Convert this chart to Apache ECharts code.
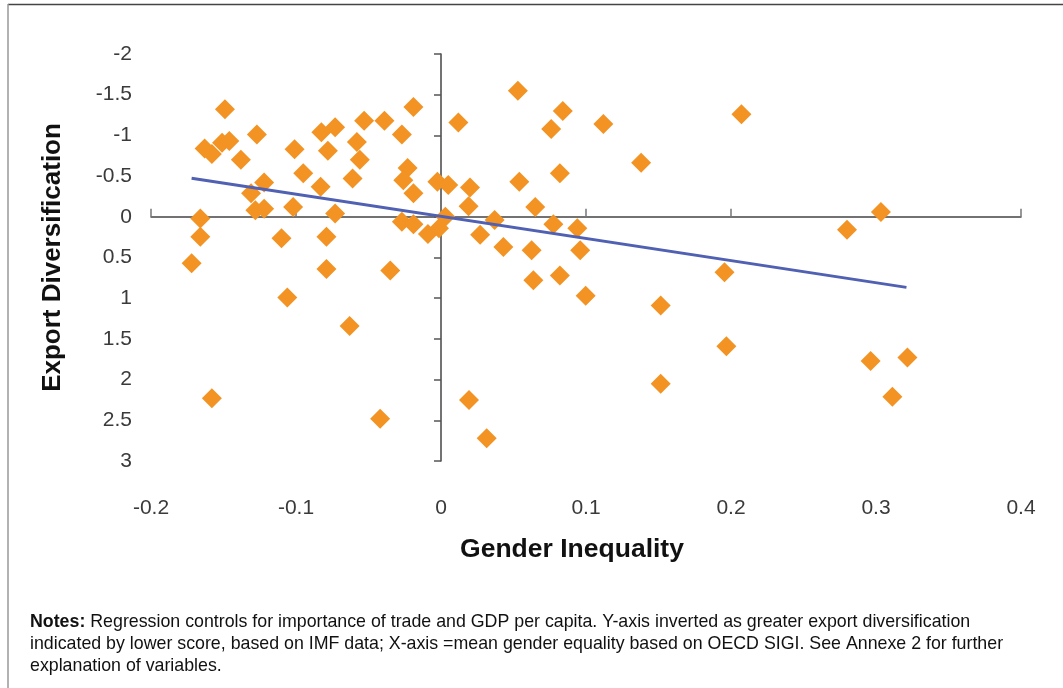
<!DOCTYPE html>
<html>
<head>
<meta charset="utf-8">
<script src="https://cdn.jsdelivr.net/npm/echarts@6/dist/echarts.min.js"></script>
<style>
  html, body { margin: 0; padding: 0; background: #fff; }
  #chart { width: 1063px; height: 688px; }
</style>
</head>
<body>
<div id="chart"></div>
<script>
// gender inequality (x) per country
var genderInequality = [
  -0.149, -0.163, -0.158, -0.151, -0.146, -0.127, -0.138, -0.101, -0.095, -0.0825,
  -0.073, -0.078, -0.053, -0.039, -0.058, -0.056, -0.061, -0.083, -0.122, -0.131,
  -0.128, -0.122, -0.102, -0.073, -0.166, -0.166, -0.110, -0.079, -0.172, -0.079,
  -0.035, -0.106, -0.063, -0.158, -0.042, -0.019, -0.027, 0.012, 0.053, 0.084,
  0.076, 0.112, -0.023, -0.026, -0.019, -0.0025, 0.005, 0.020, 0.019, 0.054,
  0.082, 0.065, -0.027, -0.019, -0.009, -0.0014, 0.003, 0.027, 0.037, 0.043,
  0.0625, 0.0775, 0.094, 0.096, 0.0637, 0.082, 0.0998, 0.0193, 0.0315, 0.2072,
  0.138, 0.3034, 0.280, 0.1955, 0.1515, 0.1968, 0.1515, 0.2963, 0.3217, 0.3113
];
// export diversification (y, inverted axis)
var exportDiversification = [
  -1.32, -0.84, -0.77, -0.91, -0.93, -1.01, -0.70, -0.83, -0.535, -1.04,
  -1.10, -0.81, -1.18, -1.18, -0.92, -0.70, -0.47, -0.37, -0.42, -0.29,
  -0.08, -0.10, -0.12, -0.04, 0.02, 0.245, 0.265, 0.245, 0.57, 0.64,
  0.66, 0.99, 1.34, 2.23, 2.48, -1.35, -1.01, -1.16, -1.55, -1.30,
  -1.08, -1.14, -0.60, -0.45, -0.29, -0.43, -0.39, -0.36, -0.13, -0.43,
  -0.535, -0.12, 0.06, 0.09, 0.21, 0.14, 0.0, 0.22, 0.04, 0.37,
  0.41, 0.09, 0.14, 0.41, 0.78, 0.72, 0.97, 2.25, 2.72, -1.26,
  -0.665, -0.06, 0.16, 0.68, 1.09, 1.59, 2.05, 1.77, 1.73, 2.21
];
// regression line end points
var fitX = [-0.172, 0.321];
var fitY = [-0.474, 0.867];

var xMin = -0.2, xMax = 0.4, xStep = 0.1;
var yMin = -2, yMax = 3, yStep = 0.5;

var notesLines = [
  "{b|Notes:} Regression controls for importance of trade and GDP per capita. Y-axis inverted as greater export diversification",
  "indicated by lower score, based on IMF data; X-axis =mean gender equality based on OECD SIGI. See Annexe 2 for further",
  "explanation of variables."
];

var points = genderInequality.map(function (x, i) { return [x, exportDiversification[i]]; });
var fitLine = fitX.map(function (x, i) { return [x, fitY[i]]; });

var font = "'Liberation Sans', Arial, sans-serif";
var labelStyle = { fontFamily: font, fontSize: 21, color: "#3a3a3a" };

var chart = echarts.init(document.getElementById("chart"));
var option = {
  animation: false,
  grid: { left: 151, right: 42, top: 54, bottom: 227, containLabel: false },
  xAxis: [
    {
      // axis line through y = 0
      type: "value", min: xMin, max: xMax, interval: xStep,
      axisLine: { onZero: true, lineStyle: { color: "#444", width: 1.5 } },
      axisTick: { inside: true, length: 8, lineStyle: { color: "#777", width: 1.5 } },
      axisLabel: { show: false },
      splitLine: { show: false }
    },
    {
      // labels + title at the bottom
      type: "value", min: xMin, max: xMax, interval: xStep, position: "bottom",
      axisLine: { show: false, onZero: false },
      axisTick: { show: false },
      axisLabel: Object.assign({ margin: 37 }, labelStyle),
      splitLine: { show: false },
      name: "Gender Inequality", nameLocation: "middle", nameGap: 75,
      nameTextStyle: { fontFamily: font, fontSize: 26.5, fontWeight: "bold", color: "#111", padding: [0, 28, 0, 0] }
    }
  ],
  yAxis: [
    {
      type: "value", inverse: true, min: yMin, max: yMax, interval: yStep,
      axisLine: { onZero: true, lineStyle: { color: "#444", width: 1.5 } },
      axisTick: { length: 7, lineStyle: { color: "#555", width: 1.5 } },
      axisLabel: { show: false },
      splitLine: { show: false }
    },
    {
      type: "value", inverse: true, min: yMin, max: yMax, interval: yStep, position: "left",
      axisLine: { show: false, onZero: false },
      axisTick: { show: false },
      axisLabel: Object.assign({ margin: 19 }, labelStyle),
      splitLine: { show: false },
      name: "Export Diversification", nameLocation: "middle", nameGap: 85, nameRotate: 90,
      nameTextStyle: { fontFamily: font, fontSize: 26, fontWeight: "bold", color: "#111" }
    }
  ],
  series: [
    {
      type: "scatter",
      xAxisIndex: 0, yAxisIndex: 0,
      symbol: "diamond",
      symbolSize: 20,
      itemStyle: { color: "#f39323", opacity: 1 },
      data: points,
      z: 2
    },
    {
      type: "line",
      xAxisIndex: 0, yAxisIndex: 0,
      showSymbol: false,
      lineStyle: { color: "#5060b2", width: 3 },
      data: fitLine,
      z: 3
    }
  ],
  graphic: [
    { type: "line", shape: { x1: 8, y1: 4.5, x2: 1063, y2: 4.5 }, style: { stroke: "#444", lineWidth: 1.5 } },
    { type: "line", shape: { x1: 8, y1: 4, x2: 8, y2: 688 }, style: { stroke: "#999", lineWidth: 1.5 } },
    {
      type: "text", left: 30, top: 611,
      style: {
        text: notesLines.join("\n"),
        font: "17.8px " + font,
        fill: "#111",
        lineHeight: 22,
        rich: { b: { fontWeight: "bold", fontSize: 17.8, fontFamily: font, fill: "#111", lineHeight: 22 } }
      }
    }
  ]
};
chart.setOption(option);
window.addEventListener("resize", function () { chart.resize(); });
</script>
</body>
</html>
